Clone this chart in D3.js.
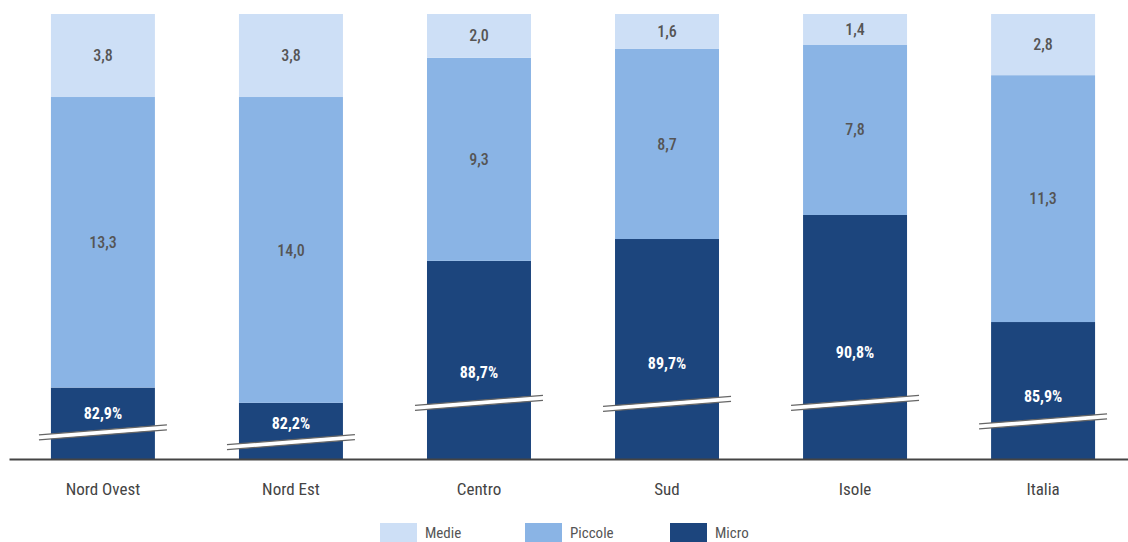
<!DOCTYPE html>
<html>
<head>
<meta charset="utf-8">
<script src="https://cdn.jsdelivr.net/npm/d3@7"></script>
<style>
  body { margin: 0; background: #fff; }
  svg text { font-family: "Roboto Condensed", "Liberation Sans Narrow", "Arial Narrow", sans-serif; }
</style>
</head>
<body>
<svg width="1128" height="542"></svg>
<script>
var regions = ["Nord Ovest", "Nord Est", "Centro", "Sud", "Isole", "Italia"];
var micro   = [82.9, 82.2, 88.7, 89.7, 90.8, 85.9];
var piccole = [13.3, 14.0, 9.3, 8.7, 7.8, 11.3];
var medie   = [3.8, 3.8, 2.0, 1.6, 1.4, 2.8];
// where the axis break and the micro label sit, in % units
var breakAt = [80.85, 80.4, 82.2, 82.15, 82.2, 81.35];
var labelAt = [81.7, 81.25, 83.6, 84.0, 84.5, 82.5];
var series  = ["Medie", "Piccole", "Micro"];

var svg = d3.select("svg"),
    width = +svg.attr("width"),
    height = +svg.attr("height");

var colors = {Micro: "#1c457d", Piccole: "#8ab4e5", Medie: "#cddff6"};

var x = d3.scaleBand()
    .domain(regions)
    .range([9, 1137])
    .paddingInner(0.447)
    .paddingOuter(0.223);

var y = d3.scaleLinear()
    .domain([79.63, 100])
    .range([459, 14]);

var data = regions.map(function(r, i) {
    return {region: r, Micro: micro[i], Piccole: piccole[i], Medie: medie[i], brk: breakAt[i], lab: labelAt[i]};
});

var stack = d3.stack().keys(["Micro", "Piccole", "Medie"]);
var layers = stack(data);

svg.append("g")
  .selectAll("g")
  .data(layers)
  .enter().append("g")
    .attr("fill", function(d) { return colors[d.key]; })
  .selectAll("rect")
  .data(function(d) { return d; })
  .enter().append("rect")
    .attr("x", function(d) { return x(d.data.region); })
    .attr("y", function(d) { return y(d[1]); })
    .attr("width", x.bandwidth())
    .attr("height", function(d) { return y(Math.max(d[0], y.domain()[0])) - y(d[1]); });

var fmt = function(v) { return v.toFixed(1).replace(".", ","); };

// labels for piccole and medie
layers.slice(1).forEach(function(layer) {
    svg.append("g")
      .selectAll("text")
      .data(layer)
      .enter().append("text")
        .attr("x", function(d) { return x(d.data.region) + x.bandwidth() / 2; })
        .attr("y", function(d) { return (y(d[0]) + y(d[1])) / 2; })
        .attr("dy", "0.35em")
        .attr("text-anchor", "middle")
        .attr("font-size", 16)
        .attr("font-weight", 500)
        .attr("fill", "#555")
        .text(function(d) { return fmt(d[1] - d[0]); });
});

// axis break marks
var over = 12, drop = 10, gap = 5;
var breaks = svg.append("g")
  .selectAll("g")
  .data(data)
  .enter().append("g");

breaks.append("path")
    .attr("fill", "#fff")
    .attr("d", function(d) {
        var x0 = x(d.region) - over, x1 = x(d.region) + x.bandwidth() + over,
            yc = y(d.brk);
        return "M" + x0 + "," + (yc + drop / 2 - gap / 2) +
               "L" + x1 + "," + (yc - drop / 2 - gap / 2) +
               "L" + x1 + "," + (yc - drop / 2 + gap / 2) +
               "L" + x0 + "," + (yc + drop / 2 + gap / 2) + "Z";
    });

[-1, 1].forEach(function(s) {
    breaks.append("line")
        .attr("stroke", "#666")
        .attr("stroke-width", 1.3)
        .attr("x1", function(d) { return x(d.region) - over; })
        .attr("x2", function(d) { return x(d.region) + x.bandwidth() + over; })
        .attr("y1", function(d) { return y(d.brk) + drop / 2 + s * gap / 2; })
        .attr("y2", function(d) { return y(d.brk) - drop / 2 + s * gap / 2; });
});

// micro labels
svg.append("g")
  .selectAll("text")
  .data(data)
  .enter().append("text")
    .attr("x", function(d) { return x(d.region) + x.bandwidth() / 2; })
    .attr("y", function(d) { return y(d.lab); })
    .attr("dy", "0.35em")
    .attr("text-anchor", "middle")
    .attr("font-size", 16)
    .attr("font-weight", "bold")
    .attr("fill", "#fff")
    .text(function(d) { return fmt(d.Micro) + "%"; });

// x axis
var xAxis = svg.append("g")
    .attr("transform", "translate(0," + y.range()[0] + ")")
    .call(d3.axisBottom(x).tickSize(0).tickPadding(24));
xAxis.select(".domain").attr("stroke", "#444").attr("stroke-width", 2);
xAxis.selectAll("text")
    .attr("font-size", 17)
    .attr("fill", "#444")
    .style("font-family", "\"Roboto Condensed\", \"Liberation Sans Narrow\", \"Arial Narrow\", sans-serif");

// legend
var legend = svg.append("g")
  .selectAll("g")
  .data(series)
  .enter().append("g")
    .attr("transform", function(d, i) { return "translate(" + (380 + i * 145) + ",523)"; });

legend.append("rect")
    .attr("width", 37)
    .attr("height", 20)
    .attr("fill", function(d) { return colors[d]; });

legend.append("text")
    .attr("x", 45)
    .attr("y", 10)
    .attr("dy", "0.35em")
    .attr("font-size", 15)
    .attr("fill", "#555")
    .text(function(d) { return d; });
</script>
</body>
</html>
